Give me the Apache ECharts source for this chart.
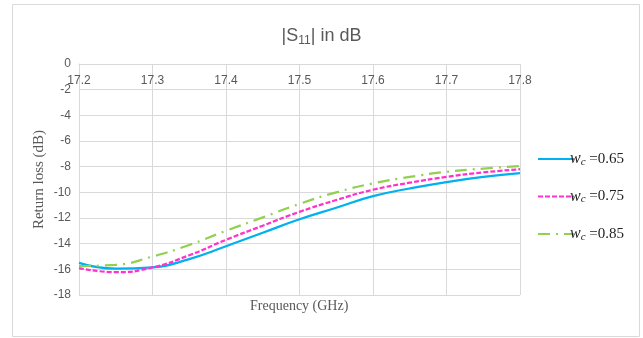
<!DOCTYPE html>
<html>
<head>
<meta charset="utf-8">
<script src="https://cdn.jsdelivr.net/npm/echarts@6/dist/echarts.min.js"></script>
<style>html,body{margin:0;padding:0;background:#fff;}#c{width:643px;height:338px;}</style>
</head>
<body>
<div id="c"></div>
<script>
var freq = [17.2, 17.25, 17.3, 17.35, 17.4, 17.45, 17.5, 17.55, 17.6, 17.65, 17.7, 17.75, 17.8];
var s065 = [-15.5, -15.95, -15.85, -15.2, -14.2, -13.15, -12.1, -11.2, -10.3, -9.7, -9.2, -8.8, -8.5];
var s075 = [-15.9, -16.22, -15.85, -14.9, -13.7, -12.6, -11.52, -10.6, -9.8, -9.25, -8.8, -8.45, -8.2];
var s085 = [-15.75, -15.65, -15.0, -14.1, -13.0, -11.95, -10.9, -10.0, -9.3, -8.8, -8.4, -8.15, -7.95];
var seriesNames = ['wc =0.65', 'wc =0.75', 'wc =0.85'];
var seriesValues = ['0.65', '0.75', '0.85'];
var yTicks = [-18, 0, 2];
var xTicks = [17.2, 17.8, 0.1];

function pairs(v) { return freq.map(function (f, i) { return [f, v[i]]; }); }

var chart = echarts.init(document.getElementById('c'));
var serif = '"Liberation Serif", "Times New Roman", serif';
var sans = '"Liberation Sans", Arial, sans-serif';
chart.setOption({
  backgroundColor: '#fff',
  animation: false,
  title: {
    text: '|S{sub|11}| in dB',
    left: 'center',
    top: 20,
    textStyle: {
      fontFamily: sans, fontSize: 18, fontWeight: 'normal', color: '#595959',
      rich: { sub: { fontFamily: sans, fontSize: 12, color: '#595959', verticalAlign: 'bottom', padding: [10, 0, 0, 0] } }
    }
  },
  graphic: [
    { type: 'rect', shape: { x: 12.5, y: 4.5, width: 627, height: 332 }, style: { fill: 'none', stroke: '#d9d9d9', lineWidth: 1 }, z: -1 },
    { type: 'text', left: 250, top: 299, style: { text: 'Frequency (GHz)', font: '14px ' + serif, fill: '#595959' } }
  ],
  grid: { left: 79, right: 123, top: 64, bottom: 43 },
  legend: {
    orient: 'vertical',
    left: 532,
    top: 146,
    itemWidth: 36,
    itemHeight: 14,
    itemGap: 21,
    data: seriesNames,
    itemStyle: { opacity: 0 },
    formatter: function (name) {
      var i = seriesNames.indexOf(name);
      return '{w|w}{c|c}{t| =' + seriesValues[i] + '}';
    },
    textStyle: {
      padding: [0, 0, 0, -9],
      rich: {
        w: { fontFamily: serif, fontStyle: 'italic', fontSize: 16, color: '#222' },
        c: { fontFamily: serif, fontStyle: 'italic', fontSize: 11, color: '#222', verticalAlign: 'bottom', padding: [6, 0, 0, 0] },
        t: { fontFamily: serif, fontSize: 15, color: '#222' }
      }
    }
  },
  xAxis: {
    type: 'value',
    position: 'top',
    min: xTicks[0], max: xTicks[1], interval: xTicks[2],
    axisLine: { onZero: false, lineStyle: { color: '#d9d9d9' } },
    axisTick: { show: false },
    splitLine: { show: true, lineStyle: { color: '#d9d9d9' } },
    axisLabel: { inside: true, color: '#595959', fontFamily: sans, fontSize: 12, margin: 11, formatter: function (v) { return v.toFixed(1); } }
  },
  yAxis: {
    type: 'value',
    min: yTicks[0], max: yTicks[1], interval: yTicks[2],
    name: 'Return loss (dB)',
    nameLocation: 'middle',
    nameGap: 32,
    nameMoveOverlap: false,
    nameTextStyle: { fontFamily: serif, fontSize: 15, color: '#595959' },
    axisLine: { show: true, lineStyle: { color: '#d9d9d9' } },
    axisTick: { show: false },
    splitLine: { show: true, lineStyle: { color: '#d9d9d9' } },
    axisLabel: { color: '#595959', fontFamily: sans, fontSize: 12, margin: 8 }
  },
  series: [
    { name: seriesNames[0], type: 'line', smooth: true, symbol: 'none', data: pairs(s065), color: '#00B0F0',
      lineStyle: { color: '#00B0F0', width: 2.25, type: 'solid' } },
    { name: seriesNames[1], type: 'line', smooth: true, symbol: 'none', data: pairs(s075), color: '#FF33CC',
      lineStyle: { color: '#FF33CC', width: 2.25, type: [5, 2] } },
    { name: seriesNames[2], type: 'line', smooth: true, symbol: 'none', data: pairs(s085), color: '#92D050',
      lineStyle: { color: '#92D050', width: 2.25, type: [12, 6, 2, 6] } }
  ]
});
</script>
</body>
</html>
